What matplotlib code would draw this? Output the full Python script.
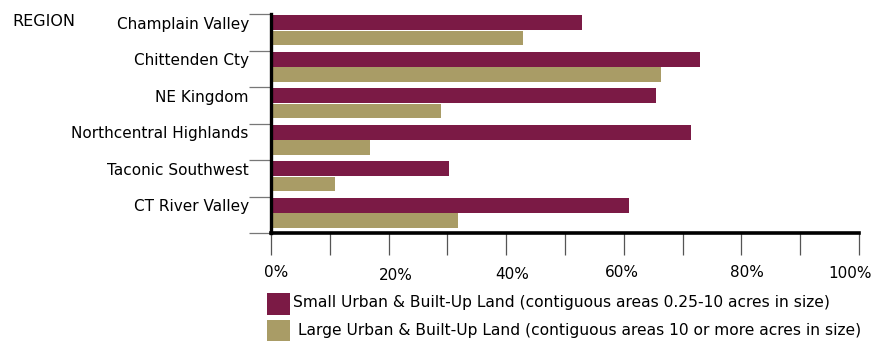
import matplotlib
matplotlib.use("Agg")
import matplotlib.pyplot as plt
import matplotlib.transforms as mtransforms
from matplotlib.patches import Rectangle
import numpy as np

# Share of urban & built-up land by region (percent)
regions = [
    "Champlain Valley",
    "Chittenden Cty",
    "NE Kingdom",
    "Northcentral Highlands",
    "Taconic Southwest",
    "CT River Valley",
]
small_urban = [52.9, 73.0, 65.5, 71.4, 30.2, 60.8]
large_urban = [42.9, 66.3, 28.9, 16.8, 10.9, 31.8]

series_labels = [
    "Small Urban & Built-Up Land (contiguous areas 0.25-10 acres in size)",
    "Large Urban & Built-Up Land (contiguous areas 10 or more acres in size)",
]
series_colors = ["#7B1A45", "#A99C66"]

x_major = [0, 20, 40, 60, 80, 100]
x_minor = [10, 30, 50, 70, 90]
x_labels = ["0%", "20%", "40%", "60%", "80%", "100%"]

plt.rcParams["font.family"] = ["DejaVu Sans"]
FS = 11

fig = plt.figure(figsize=(8.75, 3.41), dpi=100)
W, H = 875, 341
ax = fig.add_axes([271 / W, 1 - 233 / H, (859 - 271) / W, (233 - 14) / H])

n = len(regions)
idx = np.arange(n)
ax.barh(idx + 0.235, small_urban, height=0.41, color=series_colors[0], zorder=2)
ax.barh(idx + 0.655, large_urban, height=0.39, color=series_colors[1], zorder=2)

ax.set_xlim(0, 100)
ax.set_ylim(n, 0)

# spines
for s in ("top", "right"):
    ax.spines[s].set_visible(False)
ax.spines["left"].set_linewidth(2.4)
ax.spines["bottom"].set_linewidth(2.6)
ax.spines["left"].set_zorder(3)
ax.spines["bottom"].set_zorder(3)

# y axis: boundary tick lines, labels at the upper bar of each group
ax.set_yticks(np.arange(n + 1))
ax.set_yticklabels([])
ax.tick_params(axis="y", which="major", length=16, width=0.9, color="#777777")
ax.set_yticks(idx + 0.235, minor=True)
ax.set_yticklabels(regions, minor=True, fontsize=FS)
ax.tick_params(axis="y", which="minor", length=0, pad=16)

# x axis
ax.set_xticks(x_major)
ax.set_xticklabels(x_labels, fontsize=FS)
ax.set_xticks(x_minor, minor=True)
ax.tick_params(axis="x", which="both", length=16, width=0.9, color="#555555", pad=7)
label_dx = [5, 7, 6, -2, 6, -9]
label_dy = [0, -3, -2, 0, 0, -1]
for lab, dx, dy in zip(ax.get_xticklabels(), label_dx, label_dy):
    shift = mtransforms.ScaledTranslation(dx / 100, dy / 100, fig.dpi_scale_trans)
    lab.set_transform(lab.get_transform() + shift)

fig.text(12 / W, 1 - 21 / H, "REGION", fontsize=11.5, va="center", ha="left")

# legend
for k, (lab, col) in enumerate(zip(series_labels, series_colors)):
    y0 = 293 + k * 27
    fig.add_artist(Rectangle((267 / W, 1 - (y0 + 22) / H), 23 / W, 22 / H,
                             transform=fig.transFigure, color=col, lw=0))
    fig.text((293 + 5 * k) / W, 1 - (y0 + 10) / H, lab, fontsize=11.2,
             va="center", ha="left")

fig.savefig("out.png", dpi=100)
